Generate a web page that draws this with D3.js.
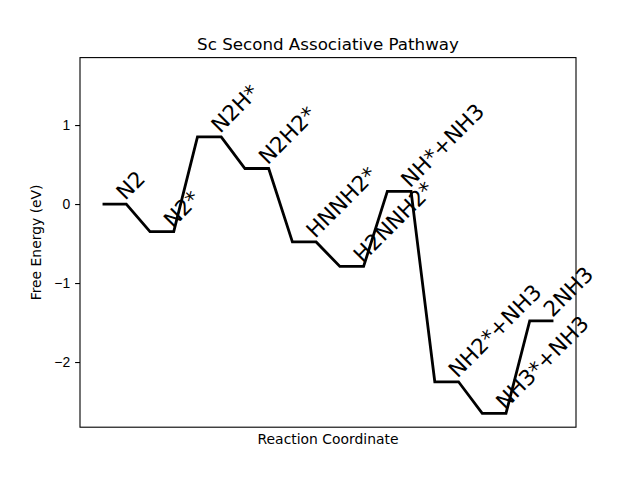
<!DOCTYPE html>
<html>
  <head>
    <title>Sc Second Associative Pathway</title>
    <script src="https://d3js.org/d3.v7.min.js"></script>
    <style>
      body { margin: 0; background: #fff; }
      svg { font-family: "DejaVu Sans", sans-serif; }
      .axis-label { font-size: 13.9px; }
      .tick text { font-size: 13.9px; fill: #000; }
      .step-label { font-size: 21.5px; fill: #000; }
    </style>
  </head>
  <body>
    <div id="chart"></div>
    <script>
      // Intermediates along the pathway and their free energies (eV)
      const states = ["N2", "N2*", "N2H*", "N2H2*", "HNNH2*", "H2NNH2*",
                      "NH*+NH3", "NH2*+NH3", "NH3*+NH3", "2NH3"];
      const energies = [0, -0.35, 0.85, 0.45, -0.48, -0.79, 0.16, -2.25, -2.65, -1.48];
      const yTicks = [1, 0, -1, -2];

      // Setting dimensions and margins (matplotlib defaults)
      const W = 640, H = 480;
      const margin = { top: 57.6, right: 64, bottom: 52.8, left: 80 };
      const width = W - margin.left - margin.right;
      const height = H - margin.top - margin.bottom;

      const root = d3.select("#chart").append("svg")
        .attr("width", W)
        .attr("height", H);

      const svg = root.append("g")
        .attr("transform", `translate(${margin.left}, ${margin.top})`);

      // each level sits on [i, i + 0.5]
      const x = d3.scaleLinear().domain([-0.475, 9.975]).range([0, width]);
      const y = d3.scaleLinear().domain([-2.825, 1.854]).range([height, 0]);

      // polyline: level, then connector to the next level
      const pts = [];
      energies.forEach((e, i) => {
        pts.push([i, e]);
        pts.push([i + 0.5, e]);
      });

      svg.append("path")
        .datum(pts)
        .attr("fill", "none")
        .attr("stroke", "#000")
        .attr("stroke-width", 2.8)
        .attr("stroke-linejoin", "miter")
        .attr("d", d3.line().x((d) => x(d[0])).y((d) => y(d[1])));

      // rotated state labels, starting at the right end of each level
      svg.selectAll(".step-label")
        .data(states)
        .enter()
        .append("text")
        .attr("class", "step-label")
        .attr("transform", (d, i) =>
          `translate(${x(i + 0.5) - 1}, ${y(energies[i]) - 3}) rotate(-45)`)
        .text((d) => d);

      // y axis
      const yAxis = svg.append("g")
        .call(d3.axisLeft(y)
          .tickValues(yTicks)
          .tickSize(4.9)
          .tickPadding(4.9)
          .tickFormat((d) => (d < 0 ? "\u2212" + Math.abs(d) : d)));
      yAxis.select(".domain").remove();
      yAxis.selectAll(".tick line").attr("stroke-width", 1.1);

      // frame
      svg.append("rect")
        .attr("width", width)
        .attr("height", height)
        .attr("fill", "none")
        .attr("stroke", "#000")
        .attr("stroke-width", 1.1);

      // title and axis labels
      root.append("text")
        .attr("x", margin.left + width / 2)
        .attr("y", 49.5)
        .attr("text-anchor", "middle")
        .style("font-size", "16.7px")
        .text("Sc Second Associative Pathway");

      root.append("text")
        .attr("class", "axis-label")
        .attr("x", margin.left + width / 2)
        .attr("y", 443.5)
        .attr("text-anchor", "middle")
        .text("Reaction Coordinate");

      root.append("text")
        .attr("class", "axis-label")
        .attr("transform", `translate(41, ${margin.top + height / 2}) rotate(-90)`)
        .attr("text-anchor", "middle")
        .text("Free Energy (eV)");
    </script>
  </body>
</html>
